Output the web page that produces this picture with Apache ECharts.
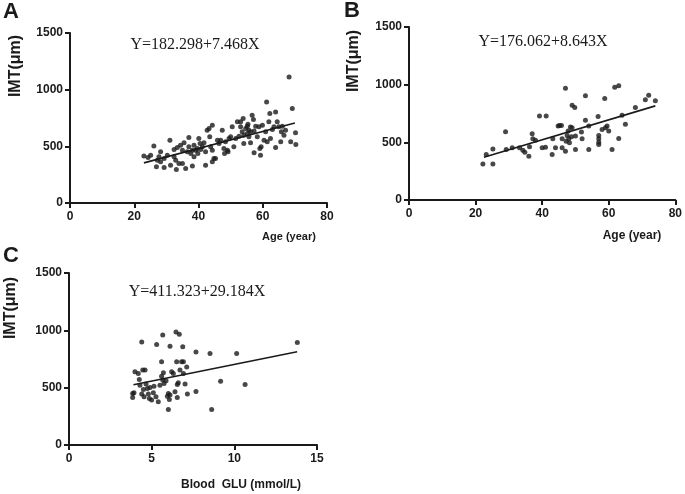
<!DOCTYPE html>
<html>
<head>
<meta charset="utf-8">
<script src="https://cdn.jsdelivr.net/npm/echarts@6/dist/echarts.min.js"></script>
<style>
  html, body { margin: 0; padding: 0; background: #fff; }
  #main { width: 685px; height: 494px; }
</style>
</head>
<body>
<div id="main"></div>
<script>
// 三个散点图: A 年龄-IMT, B 年龄-IMT, C 血糖-IMT
var pointsA = [
  [23.0,414],[24.3,402],[25.1,422],[26.1,502],[27.2,378],[26.9,320],[27.7,408],[28.2,452],
  [28.2,364],[29.3,314],[29.3,393],[30.3,422],[31.1,554],[31.3,334],[32.4,472],[32.4,408],
  [32.9,378],[33.1,296],[33.4,490],[33.9,349],[34.4,510],[35.0,466],[35.0,349],[35.5,531],
  [36.0,305],[36.5,452],[37.0,578],[37.0,496],[37.6,437],[38.1,466],[38.1,326],[38.6,408],
  [38.6,510],[39.1,466],[39.6,481],[39.8,437],[40.1,569],[40.5,525],[40.7,472],[41.2,496],
  [41.7,531],[42.2,452],[42.2,334],[42.7,642],[43.3,657],[43.5,584],[43.8,496],[44.3,686],
  [44.3,466],[44.3,364],[44.8,393],[45.3,393],[45.9,554],[46.4,525],[46.9,554],[47.4,642],
  [47.9,481],[48.1,437],[48.4,540],[49.0,466],[49.2,452],[49.5,569],[50.0,584],[50.5,672],
  [51.0,496],[51.6,569],[52.1,716],[52.6,590],[53.1,672],[53.1,716],[53.6,628],[53.9,745],
  [54.1,598],[54.1,525],[54.7,657],[55.2,678],[55.2,613],[55.4,695],[55.7,642],[55.7,584],
  [56.2,628],[56.2,531],[56.7,774],[57.1,736],[57.3,636],[57.3,443],[57.8,678],[58.3,584],
  [58.8,672],[59.1,481],[59.3,422],[59.5,496],[59.9,686],[60.4,554],[60.9,628],[61.2,892],
  [61.4,540],[61.9,716],[62.2,789],[62.4,569],[63.0,648],[63.5,672],[64.0,804],[64.0,490],
  [64.5,716],[65.0,672],[65.6,540],[65.8,628],[66.1,678],[66.6,598],[67.1,642],[68.2,1112],
  [68.7,540],[69.2,833],[70.2,619],[70.3,516]
];
var fitA = [[23, 354], [70, 705]];

var pointsB = [
  [22.2,312],[23.2,394],[25.2,443],[25.2,312],[29.0,592],[29.2,437],[31.0,452],[33.2,452],
  [34.2,431],[34.8,414],[36.0,379],[36.2,461],[37.0,574],[37.2,531],[38.0,519],[39.2,729],
  [40.0,452],[41.0,458],[41.2,729],[43.0,394],[43.2,531],[44.0,452],[44.8,641],[45.2,647],
  [45.8,647],[46.0,452],[46.0,531],[47.0,968],[47.0,423],[47.2,510],[47.5,560],[47.8,598],
  [48.0,531],[48.2,496],[48.5,633],[48.8,548],[49.0,627],[49.0,822],[49.8,802],[50.0,554],
  [50.0,437],[51.8,589],[52.0,531],[53.0,904],[53.0,691],[54.0,437],[54.0,641],[56.8,723],
  [57.0,560],[57.0,531],[57.0,501],[57.0,481],[58.0,612],[58.8,880],[59.0,627],[59.5,641],
  [60.0,598],[61.0,437],[61.8,977],[63.0,991],[63.0,533],[64.0,735],[65.0,656],[68.0,802],
  [71.0,869],[72.0,909],[74.0,860]
];
var fitB = [[22.5, 370], [74, 816]];

var pointsC = [
  [3.85,415],[3.85,450],[3.93,455],[3.99,638],[4.19,623],[4.25,571],[4.29,522],[4.40,899],
  [4.40,444],[4.46,653],[4.50,484],[4.54,421],[4.60,653],[4.66,531],[4.74,493],[4.80,444],
  [4.86,406],[4.90,502],[5.00,392],[5.10,455],[5.14,513],[5.26,421],[5.30,876],[5.40,377],
  [5.50,522],[5.60,600],[5.60,725],[5.67,960],[5.67,566],[5.71,629],[5.75,537],[5.87,560],
  [5.95,426],[6.01,310],[6.01,450],[6.07,397],[6.11,861],[6.11,435],[6.21,638],[6.31,623],
  [6.41,464],[6.47,986],[6.51,725],[6.55,528],[6.55,415],[6.61,542],[6.67,966],[6.71,653],
  [6.81,725],[6.88,856],[6.92,725],[6.92,623],[7.02,531],[7.12,681],[7.16,444],[7.68,812],
  [7.68,467],[8.53,797],[8.63,310],[9.17,557],[10.14,797],[10.65,528],[13.81,893]
];
var fitC = [[3.9, 525], [13.8, 814]];

var ink = '#1a1a1a';

function xAx(idx, max, step) {
  return {
    gridIndex: idx, type: 'value', min: 0, max: max, interval: step,
    axisLine: { show: true, onZero: false, lineStyle: { color: ink, width: 2 } },
    axisTick: { show: true, length: 5, lineStyle: { color: ink, width: 2 } },
    axisLabel: { color: ink, fontSize: 12, fontWeight: 'bold', fontFamily: 'Liberation Sans', margin: 8,
      formatter: function (v) { return String(v); } },
    splitLine: { show: false }
  };
}
function yAx(idx) {
  return {
    gridIndex: idx, type: 'value', min: 0, max: 1500, interval: 500,
    axisLine: { show: true, lineStyle: { color: ink, width: 2 } },
    axisTick: { show: true, length: 5, lineStyle: { color: ink, width: 2 } },
    axisLabel: { color: ink, fontSize: 12, fontWeight: 'bold', fontFamily: 'Liberation Sans', margin: 7,
      formatter: function (v) { return String(v); } },
    splitLine: { show: false }
  };
}
function dots(idx, data) {
  return {
    type: 'scatter', xAxisIndex: idx, yAxisIndex: idx, data: data,
    symbolSize: 5, itemStyle: { color: ink }, silent: true
  };
}
function fit(idx, data) {
  return {
    type: 'line', xAxisIndex: idx, yAxisIndex: idx, data: data,
    showSymbol: false, lineStyle: { color: ink, width: 1.6 }, silent: true
  };
}
function txt(x, y, s, size, opt, rot) {
  var st = {
    text: s, fill: ink, fontSize: size, fontWeight: 'bold',
    fontFamily: 'Liberation Sans', textAlign: 'center', textVerticalAlign: 'middle'
  };
  for (var k in opt) st[k] = opt[k];
  return { type: 'text', x: x, y: y, rotation: rot || 0, style: st };
}
var serif = { fontWeight: 'normal', fontFamily: 'Liberation Serif' };

var myChart = echarts.init(document.getElementById('main'));

var option = {
  animation: false,
  grid: [
    { left: 70, top: 33, width: 257, height: 170 },
    { left: 409, top: 27, width: 268, height: 173 },
    { left: 69, top: 273, width: 248, height: 172 }
  ],
  xAxis: [xAx(0, 80, 20), xAx(1, 80, 20), xAx(2, 15, 5)],
  yAxis: [yAx(0), yAx(1), yAx(2)],
  series: [
    dots(0, pointsA), fit(0, fitA),
    dots(1, pointsB), fit(1, fitB),
    dots(2, pointsC), fit(2, fitC)
  ],
  graphic: [
    txt(11, 12, 'A', 22),
    txt(352, 11, 'B', 22),
    txt(11, 256, 'C', 22),
    txt(16, 66, 'IMT(μm)', 16, null, Math.PI / 2),
    txt(354, 61, 'IMT(μm)', 16, null, Math.PI / 2),
    txt(11, 308, 'IMT(μm)', 16, null, Math.PI / 2),
    txt(289, 237, 'Age (year)', 11),
    txt(632, 236, 'Age (year)', 12),
    txt(241, 485, 'Blood  GLU (mmol/L)', 12),
    txt(195, 45, 'Y=182.298+7.468X', 16, serif),
    txt(543, 42, 'Y=176.062+8.643X', 16, serif),
    txt(197, 292, 'Y=411.323+29.184X', 16, serif)
  ]
};

myChart.setOption(option);
</script>
</body>
</html>
